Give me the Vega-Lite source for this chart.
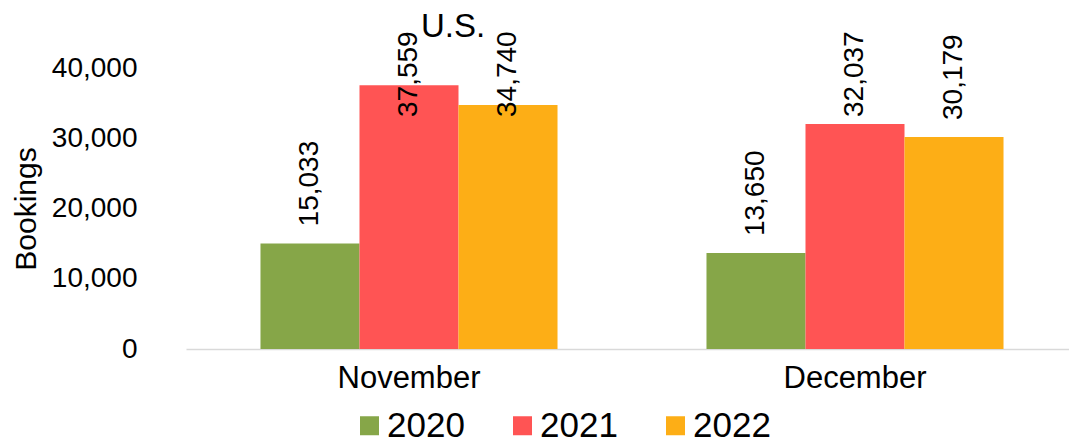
{
  "$schema": "https://vega.github.io/schema/vega-lite/v6.json",
  "autosize": "none",
  "width": 892,
  "height": 281,
  "padding": {"left": 186, "top": 68, "right": 0, "bottom": 97},
  "background": "white",
  "config": {
    "view": {"stroke": null},
    "font": "Liberation Sans"
  },
  "title": {
    "text": "U.S.",
    "orient": "top",
    "anchor": "start",
    "frame": "group",
    "dx": 235,
    "dy": 30,
    "offset": 17,
    "fontSize": 33,
    "fontWeight": "normal",
    "color": "#000000",
    "font": "Liberation Sans"
  },
  "data": {
    "values": [
      {"month": "November", "year": "2020", "bookings": 15033},
      {"month": "November", "year": "2021", "bookings": 37559},
      {"month": "November", "year": "2022", "bookings": 34740},
      {"month": "December", "year": "2020", "bookings": 13650},
      {"month": "December", "year": "2021", "bookings": 32037},
      {"month": "December", "year": "2022", "bookings": 30179}
    ]
  },
  "encoding": {
    "x": {
      "field": "month",
      "type": "nominal",
      "sort": ["November", "December"],
      "scale": {"paddingInner": 0.334, "paddingOuter": 0.167},
      "axis": {
        "title": null,
        "labelAngle": 0,
        "labelFontSize": 31,
        "labelColor": "#000000",
        "labelPadding": 14,
        "ticks": false,
        "tickSize": 0,
        "domainColor": "#D9D9D9",
        "domainWidth": 1.5
      }
    },
    "xOffset": {
      "field": "year",
      "type": "nominal",
      "sort": ["2020", "2021", "2022"],
      "scale": {"paddingInner": 0, "paddingOuter": 0}
    }
  },
  "layer": [
    {
      "mark": {"type": "bar"},
      "encoding": {
        "y": {
          "field": "bookings",
          "type": "quantitative",
          "scale": {"domain": [0, 40000], "nice": false},
          "axis": {
            "title": "Bookings",
            "titleFontSize": 30,
            "titleFontWeight": "normal",
            "titleColor": "#000000",
            "titlePadding": 10,
            "values": [0, 10000, 20000, 30000, 40000],
            "format": ",.0f",
            "labelFontSize": 28,
            "labelColor": "#000000",
            "labelPadding": 49,
            "ticks": false,
            "tickSize": 0,
            "domain": false,
            "grid": false
          }
        },
        "color": {
          "field": "year",
          "type": "nominal",
          "scale": {
            "domain": ["2020", "2021", "2022"],
            "range": ["#86A648", "#FF5454", "#FDAE16"]
          },
          "legend": {
            "title": null,
            "orient": "none",
            "direction": "horizontal",
            "columns": 3,
            "legendX": 166,
            "legendY": 340,
            "symbolType": "square",
            "symbolSize": 361,
            "symbolStrokeWidth": 0,
            "labelFontSize": 35,
            "labelColor": "#000000",
            "labelOffset": 0,
            "columnPadding": 40
          }
        }
      }
    },
    {
      "mark": {
        "type": "text",
        "angle": 270,
        "align": "left",
        "baseline": "middle",
        "fontSize": 28,
        "color": "#000000"
      },
      "encoding": {
        "y": {
          "field": "bookings",
          "type": "quantitative",
          "scale": {"domain": [0, 30605], "range": [264, 49], "clamp": true, "nice": false},
          "axis": null
        },
        "text": {"field": "bookings", "type": "quantitative", "format": ","}
      }
    }
  ],
  "resolve": {"scale": {"y": "independent"}}
}
